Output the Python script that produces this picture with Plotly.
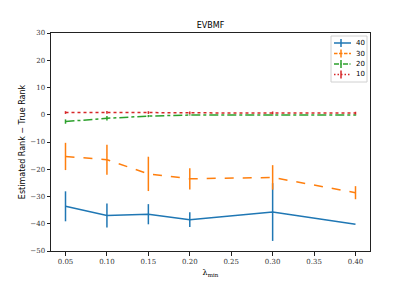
import plotly.graph_objects as go

lam = [0.05, 0.10, 0.15, 0.20, 0.30, 0.40]
names = ["40", "30", "20", "10"]
means = {
    "40": [-33.6, -37.0, -36.5, -38.5, -35.7, -40.2],
    "30": [-15.3, -16.5, -21.7, -23.5, -23.0, -28.6],
    "20": [-2.5, -1.3, -0.5, -0.1, -0.1, -0.1],
    "10": [0.8, 0.9, 0.8, 0.7, 0.7, 0.6],
}
errs = {
    "40": [5.5, 4.4, 3.7, 2.7, 10.6, 0.0],
    "30": [5.0, 5.5, 6.3, 3.9, 4.5, 2.4],
    "20": [0.8, 0.8, 0.4, 0.2, 0.2, 0.2],
    "10": [0.5, 0.5, 0.5, 0.5, 0.5, 0.5],
}
colors = {"40": "#1f77b4", "30": "#ff7f0e", "20": "#2ca02c", "10": "#d62728"}
dashes = {"40": "solid", "30": "dash", "20": "dashdot", "10": "dot"}
xticks = [0.05, 0.10, 0.15, 0.20, 0.25, 0.30, 0.35, 0.40]
yticks = [30, 20, 10, 0, -10, -20, -30, -40, -50]

OFF = 8  # default page body margin
W, H = 411 - OFF, 283 - OFF
L, R, T, B = 51 - OFF, 41, 33 - OFF, 32
pw, ph = W - L - R, H - T - B

def px(x):  # page pixel -> paper x
    return (x - OFF - L) / pw

def py(y):  # page pixel -> paper y
    return (H - B - (y - OFF)) / ph

fig = go.Figure()
for n in names:
    fig.add_trace(go.Scatter(
        x=lam, y=means[n], name=n, mode="lines", showlegend=False,
        line=dict(color=colors[n], width=1.5, dash=dashes[n]),
        error_y=dict(type="data", array=errs[n], color=colors[n], thickness=1.5, width=0),
    ))

# compact legend (matplotlib style)
shapes = [dict(type="rect", xref="paper", yref="paper",
               x0=px(331), x1=px(367), y0=py(82), y1=py(36),
               line=dict(color="#d0d0d0", width=1), fillcolor="rgba(255,255,255,0.8)", layer="above")]
annotations = []
rows = [43.0, 53.6, 64.0, 74.4]
ldash = {"40": "solid", "30": "3.5px,1.5px", "20": "5px,1.5px,1px,1.5px", "10": "1.5px,2px"}
for n, ry in zip(names, rows):
    shapes.append(dict(type="line", xref="paper", yref="paper",
                       x0=px(334), x1=px(351), y0=py(ry), y1=py(ry),
                       line=dict(color=colors[n], width=1.5, dash=ldash[n]), layer="above"))
    shapes.append(dict(type="line", xref="paper", yref="paper",
                       x0=px(341), x1=px(341), y0=py(ry - 4), y1=py(ry + 4),
                       line=dict(color=colors[n], width=1.5), layer="above"))
    annotations.append(dict(text=n, xref="paper", yref="paper", x=px(354), y=py(ry),
                            xanchor="left", yanchor="middle", showarrow=False,
                            font=dict(family="DejaVu Sans", size=7, color="black")))

tickfont = dict(family="DejaVu Serif", size=7, color="#333")
fig.update_layout(
    width=W, height=H,
    margin=dict(l=L, r=R, t=T, b=B, autoexpand=False),
    paper_bgcolor="white", plot_bgcolor="white",
    title=dict(text="EVBMF", x=0.5, xref="paper", xanchor="center",
               y=1 - (25 - OFF) / H, yanchor="middle",
               font=dict(family="DejaVu Sans", size=8, color="black"), automargin=False),
    font=dict(family="DejaVu Sans", size=8, color="black"),
    showlegend=False,
    shapes=shapes, annotations=annotations,
)
fig.update_xaxes(
    range=[0.0325, 0.4175], tickvals=xticks, ticktext=[f"{v:.2f}" for v in xticks],
    showgrid=False, zeroline=False, showline=True, linecolor="#222", linewidth=1, mirror=True,
    ticks="outside", ticklen=3.5, tickcolor="#222", tickfont=tickfont, automargin=False,
    title=dict(text="λ<sub>min</sub>", font=dict(family="DejaVu Serif", size=8), standoff=4),
)
fig.update_yaxes(
    range=[-50, 30], tickvals=yticks, ticktext=[str(v).replace("-", "−") for v in yticks],
    showgrid=False, zeroline=False, showline=True, linecolor="#222", linewidth=1, mirror=True,
    ticks="outside", ticklen=3.5, tickcolor="#222", tickfont=tickfont, automargin=False,
    title=dict(text="Estimated Rank − True Rank", font=dict(family="DejaVu Sans", size=8), standoff=3),
)
fig.write_html("out.html")
